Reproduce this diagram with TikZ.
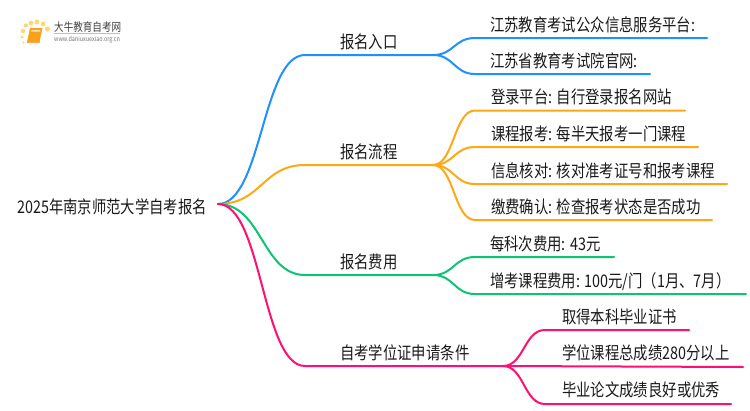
\documentclass[tikz,border=0pt]{standalone}
\usepackage{fontspec}
\setmainfont[FakeStretch=0.825]{Noto Sans CJK SC}
\usepackage{tikz}
\usetikzlibrary{calc}
\definecolor{entryblue}{HTML}{1E90FF}
\definecolor{flowgold}{HTML}{FFA814}
\definecolor{feegreen}{HTML}{0CC473}
\definecolor{degreepink}{HTML}{FF0F72}
\definecolor{logogold}{HTML}{FFD873}
\definecolor{bookgold}{HTML}{F9A11B}
\tikzset{
	wire/.style={line width=2pt,line cap=round},
	txt/.style={anchor=base west,inner sep=0pt,font=\fontsize{17.4pt}{17.4pt}\selectfont,text=black!90},
	spot/.style={fill=logogold,draw=none},
}
\begin{document}
\begin{tikzpicture}[x=1pt,y=-1pt]
	\useasboundingbox (0,0) rectangle (750,410);
	% logo
	\fill[spot] (23,31) circle[radius=2.2];
	\fill[spot] (26,25.5) circle[radius=2.2];
	\fill[spot] (31,23) circle[radius=2.4];
	\fill[spot] (37,22) circle[radius=2.4];
	\fill[spot] (43,24) circle[radius=2.4];
	\fill[spot] (47.5,29) circle[radius=2.6];
	\fill[spot] (22,37) circle[radius=1.6];
	\fill[spot] (23.5,42.5) circle[radius=1.2];
	\fill[bookgold] (30,28) -- (42.5,28) -- (39.5,42) -- (27,42) -- cycle;
	\draw[orange!70,line width=1pt] (27,42) -- (39.5,42);
	\fill[white!70!bookgold] (31.5,30) -- (40.5,30) -- (40.2,31.5) -- (31.2,31.5) -- cycle;
	\node[anchor=base west,inner sep=0pt,font=\fontsize{11.6pt}{11.6pt}\selectfont,text=black!75] (logoname) at (54,31.5) {大牛教育自考网};
	\node[anchor=base west,inner sep=0pt,font=\fontsize{6.6pt}{6.6pt}\selectfont,text=black!55] (logourl) at (54,41) {www.daniuxuexiao.org.cn};
	\draw[black!25,line width=0.5pt] (54,33.5) -- (120,33.5);
	% root
	\coordinate (root) at (218,204);
	\node[txt] (title) at (17,213) {2025年南京师范大学自考报名};
	% first level
	\coordinate (entry) at (305,55);
	\coordinate (entryfork) at (433,55);
	\coordinate (flow) at (305,165);
	\coordinate (flowfork) at (433,165);
	\coordinate (fee) at (305,275);
	\coordinate (feefork) at (433,275);
	\coordinate (degree) at (305,366);
	\coordinate (degreefork) at (503,366);
	\node[txt] (entrytxt) at (340,48) {报名入口};
	\node[txt] (flowtxt) at (340,158) {报名流程};
	\node[txt] (feetxt) at (340,268) {报名费用};
	\node[txt] (degreetxt) at (340,359) {自考学位证申请条件};
	\draw[wire,entryblue] (root) .. controls (262,204) and (262,55) .. (entry) -- (entryfork);
	\draw[wire,flowgold] (root) .. controls (262,204) and (262,165) .. (flow) -- (flowfork);
	\draw[wire,feegreen] (root) .. controls (262,204) and (262,275) .. (fee) -- (feefork);
	\draw[wire,degreepink] (root) .. controls (262,204) and (262,366) .. (degree) -- (degreefork);
	% entry leaves
	\coordinate (e1) at (475,38);
	\coordinate (e1end) at (707,38);
	\coordinate (e2) at (475,74);
	\coordinate (e2end) at (650,74);
	\node[txt] (e1txt) at (490,31) {江苏教育考试公众信息服务平台:};
	\node[txt] (e2txt) at (490,67) {江苏省教育考试院官网:};
	\draw[wire,entryblue] (entryfork) .. controls (454,55) and (454,38) .. (e1) -- (e1end);
	\draw[wire,entryblue] (entryfork) .. controls (454,55) and (454,74) .. (e2) -- (e2end);
	% flow leaves
	\coordinate (f1) at (475,110.5);
	\coordinate (f1end) at (685,110.5);
	\coordinate (f2) at (475,147);
	\coordinate (f2end) at (698,147);
	\coordinate (f3) at (475,184);
	\coordinate (f3end) at (727,184);
	\coordinate (f4) at (475,220);
	\coordinate (f4end) at (712,220);
	\node[txt] (f1txt) at (491,103.5) {登录平台: 自行登录报名网站};
	\node[txt] (f2txt) at (491,140) {课程报考: 每半天报考一门课程};
	\node[txt] (f3txt) at (491,177) {信息核对: 核对准考证号和报考课程};
	\node[txt] (f4txt) at (491,213) {缴费确认: 检查报考状态是否成功};
	\draw[wire,flowgold] (flowfork) .. controls (454,165) and (454,110.5) .. (f1) -- (f1end);
	\draw[wire,flowgold] (flowfork) .. controls (454,165) and (454,147) .. (f2) -- (f2end);
	\draw[wire,flowgold] (flowfork) .. controls (454,165) and (454,184) .. (f3) -- (f3end);
	\draw[wire,flowgold] (flowfork) .. controls (454,165) and (454,220) .. (f4) -- (f4end);
	% fee leaves
	\coordinate (g1) at (475,257);
	\coordinate (g1end) at (614,257);
	\coordinate (g2) at (475,294);
	\coordinate (g2end) at (746,294);
	\node[txt] (g1txt) at (490,250) {每科次费用: 43元};
	\node[txt] (g2txt) at (490,287) {增考课程费用: 100元/门（1月、7月）};
	\draw[wire,feegreen] (feefork) .. controls (454,275) and (454,257) .. (g1) -- (g1end);
	\draw[wire,feegreen] (feefork) .. controls (454,275) and (454,294) .. (g2) -- (g2end);
	% degree leaves
	\coordinate (d1) at (545,330);
	\coordinate (d1end) at (689,330);
	\coordinate (d2end) at (743,367);
	\coordinate (d3) at (545,404);
	\coordinate (d3end) at (731,404);
	\node[txt] (d1txt) at (562,323) {取得本科毕业证书};
	\node[txt] (d2txt) at (562,359) {学位课程总成绩280分以上};
	\node[txt] (d3txt) at (562,396) {毕业论文成绩良好或优秀};
	\draw[wire,degreepink] (degreefork) .. controls (524,366) and (524,330) .. (d1) -- (d1end);
	\draw[wire,degreepink] (degreefork) -- (d2end);
	\draw[wire,degreepink] (degreefork) .. controls (524,366) and (524,404) .. (d3) -- (d3end);
\end{tikzpicture}
\end{document}
